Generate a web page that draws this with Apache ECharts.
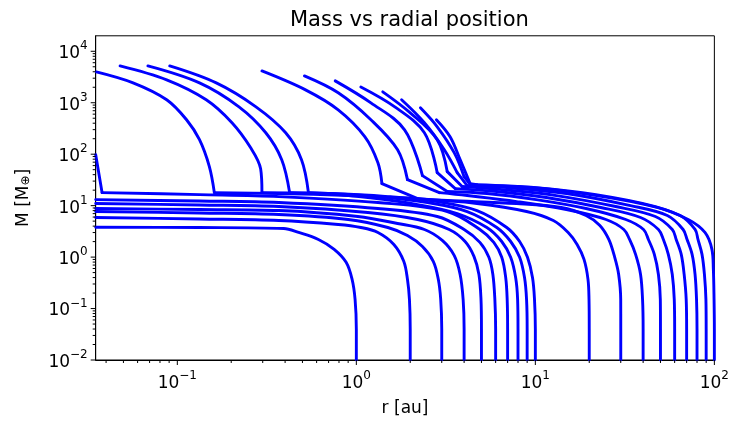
<!DOCTYPE html>
<html><head><meta charset="utf-8">
<script src="https://cdn.jsdelivr.net/npm/echarts@6/dist/echarts.min.js"></script>
<style>html,body{margin:0;padding:0;background:#fff}#c{width:732px;height:422px}</style>
</head><body><div id="c"></div>
<script>
const chartTitle = 'Mass vs radial position';
const xLabel = 'r [au]';
const xMin = 0.035, xMax = 100, yMin = 0.01, yMax = 20000;

// tick values (log axes, matplotlib style)
const xMajorTicks = [0.1, 1, 10, 100];
const yMajorTicks = [0.01, 0.1, 1, 10, 100, 1000, 10000];
const xMinorTicks = [0.04,0.05,0.06,0.07,0.08,0.09, 0.2,0.3,0.4,0.5,0.6,0.7,0.8,0.9, 2,3,4,5,6,7,8,9, 20,30,40,50,60,70,80,90];
const yMinorTicks = [0.02,0.03,0.04,0.05,0.06,0.07,0.08,0.09, 0.2,0.3,0.4,0.5,0.6,0.7,0.8,0.9, 2,3,4,5,6,7,8,9,
  20,30,40,50,60,70,80,90, 200,300,400,500,600,700,800,900, 2000,3000,4000,5000,6000,7000,8000,9000];

// planet tracks: radial position r [au] and mass M [M_earth]
const r01 = [0.035, 0.133, 0.393, 0.476, 0.614, 0.752, 0.877, 0.947, 0.984, 1, 1];
const m01 = [3.8, 3.76, 3.6, 3.01, 2.2, 1.41, 0.79, 0.37, 0.151, 0.04, 0.01];
const r02 = [0.035, 0.133, 0.369, 0.792, 1.06, 1.32, 1.62, 1.84, 1.93, 1.98, 2, 2];
const m02 = [5.88, 5.5, 5.14, 4.3, 3.76, 3.01, 1.76, 0.83, 0.37, 0.151, 0.04, 0.01];
const r03 = [0.035, 0.133, 0.369, 0.90, 1.5, 1.93, 2.34, 2.69, 2.87, 2.96, 3, 3];
const m03 = [7.69, 7.19, 6.72, 5.38, 3.76, 2.63, 1.61, 0.83, 0.37, 0.151, 0.04, 0.01];
const r04 = [0.035, 0.133, 0.369, 1.02, 1.7, 2.4, 3.02, 3.52, 3.8, 3.95, 4, 4];
const m04 = [8.79, 8.4, 8.03, 6.15, 4.5, 3.44, 2.11, 1.08, 0.46, 0.151, 0.04, 0.01];
const r05 = [0.035, 0.133, 0.369, 1.16, 2.2, 3.3, 4.05, 4.54, 4.84, 4.97, 5, 5];
const m05 = [11.0, 10.3, 9.6, 7.35, 5.38, 3.44, 2.01, 1.03, 0.46, 0.151, 0.04, 0.01];
const r06 = [0.035, 0.133, 0.369, 1.32, 2.83, 4.0, 4.9, 5.5, 5.79, 5.94, 6, 6];
const m06 = [13.1, 12.3, 11.5, 8.79, 6.15, 3.44, 1.93, 0.99, 0.46, 0.151, 0.04, 0.01];
const r07 = [0.035, 0.038, 0.133, 0.369, 1.32, 3.22, 4.9, 5.86, 6.49, 6.83, 6.96, 7, 7];
const m07 = [98, 17.9, 16.4, 15.0, 11.5, 7.69, 3.44, 1.93, 0.99, 0.40, 0.151, 0.04, 0.01];
const r08 = [0.0907, 0.165, 0.275, 0.403, 0.494, 0.54, 0.697, 1.16, 2.2, 3.66, 5.36, 6.49, 7.28, 7.76, 7.96, 8, 8];
const m08 = [5190, 2430, 833, 261, 78.2, 17.9, 17.2, 14.4, 10.5, 7.03, 3.76, 2.01, 0.99, 0.40, 0.151, 0.04, 0.01];
const r09 = [0.0685, 0.133, 0.221, 0.312, 0.383, 0.424, 0.697, 1.32, 2.5, 4.16, 6.09, 7.28, 8.17, 8.7, 8.93, 9, 9];
const m09 = [5190, 2430, 833, 261, 78.2, 17.9, 17.2, 15.0, 11.5, 7.69, 3.76, 2.01, 0.99, 0.40, 0.151, 0.04, 0.01];
const r10 = [0.0479, 0.0872, 0.145, 0.202, 0.258, 0.292, 0.297, 0.697, 1.5, 2.83, 4.72, 6.92, 8.17, 9.04, 9.64, 9.89, 10, 10];
const m10 = [5190, 2780, 1140, 408, 130, 52, 17.9, 17.2, 15.0, 12.0, 8.03, 3.76, 2.01, 0.99, 0.40, 0.151, 0.04, 0.01];
const r20 = [0.0353, 0.0566, 0.0872, 0.1126, 0.133, 0.151, 0.161, 0.369, 0.9, 2.2, 4.72, 8.93, 12.6, 15.25, 17.11, 18.7, 19.68, 19.94, 20, 20];
const m20 = [3970, 2430, 1140, 467, 191, 57.3, 17.9, 17.2, 15.7, 13.7, 11.0, 7.69, 5.14, 3.01, 1.76, 0.902, 0.37, 0.151, 0.04, 0.01];
const r30 = [0.297, 0.52, 0.792, 1.117, 1.32, 1.39, 2.2, 3.22, 7.86, 13.95, 19.19, 22.93, 25.72, 27.76, 29.2, 29.98, 30, 30];
const m30 = [4150, 1780, 728, 218, 68.4, 26.8, 13.7, 12.6, 11.0, 9.19, 6.43, 4.11, 2.2, 0.987, 0.46, 0.151, 0.04, 0.01];
const r40 = [0.513, 0.792, 1.206, 1.7, 1.93, 2.91, 4.16, 7.86, 14.9, 24.8, 31.2, 33.6, 36.3, 38.7, 39.7, 40, 40];
const m40 = [3320, 1560, 467, 122, 32.0, 17.9, 15.7, 12.0, 8.4, 5.38, 3.44, 2.2, 1.13, 0.46, 0.151, 0.04, 0.01];
const r50 = [0.762, 1.206, 1.86, 2.34, 3.22, 5.36, 10.1, 19.2, 32, 40.2, 42.8, 46.2, 48.7, 49.9, 50, 50];
const m50 = [2660, 995, 298, 38.3, 18.8, 17.2, 13.1, 8.79, 5.38, 3.44, 2.2, 1.13, 0.46, 0.151, 0.04, 0.01];
const r60 = [1.06, 1.64, 2.4, 2.83, 3.57, 6.09, 11.5, 23.2, 38.7, 48.7, 51.9, 55.3, 58.2, 59.7, 60, 60];
const m60 = [2030, 833, 261, 43.8, 21.4, 18.8, 14.4, 9.19, 5.88, 3.44, 2.2, 1.13, 0.46, 0.151, 0.04, 0.01];
const r70 = [1.405, 2.0, 2.83, 3.22, 3.9, 6.49, 13.1, 28.1, 46.8, 58.2, 61.2, 65.3, 67.8, 69.6, 70, 70];
const m70 = [1630, 637, 191, 45.8, 23.5, 20.5, 15.7, 9.61, 6.15, 3.44, 2.2, 1.13, 0.46, 0.151, 0.04, 0.01];
const r80 = [1.79, 2.4, 3.1, 3.66, 4.16, 6.92, 14.9, 34.0, 54.6, 66.9, 70.4, 75.1, 78.0, 79.5, 80, 80];
const m80 = [1140, 408, 122, 43.8, 24.5, 22.4, 17.2, 10.0, 6.43, 3.44, 2.2, 1.13, 0.46, 0.151, 0.04, 0.01];
const r90 = [2.28, 2.83, 3.52, 4.0, 4.37, 7.86, 16.9, 41.2, 64.4, 78.0, 81.0, 85.3, 88.0, 89.7, 90, 90];
const m90 = [797, 341, 107, 36.6, 24.5, 23.5, 17.9, 10.5, 6.43, 3.44, 2.2, 1.13, 0.46, 0.151, 0.04, 0.01];
const r100 = [2.8, 3.34, 3.8, 4.32, 4.72, 10.1, 21.8, 46.8, 71.4, 88.6, 96.9, 98.7, 99.6, 100, 100];
const m100 = [467, 218, 78.2, 26.8, 25.6, 22.4, 16.4, 9.61, 5.38, 3.01, 1.41, 0.58, 0.151, 0.04, 0.01];

const tracks = [[r01,m01],[r02,m02],[r03,m03],[r04,m04],[r05,m05],[r06,m06],[r07,m07],[r08,m08],[r09,m09],[r10,m10],
  [r20,m20],[r30,m30],[r40,m40],[r50,m50],[r60,m60],[r70,m70],[r80,m80],[r90,m90],[r100,m100]];
// indices of sharp corners (output-sampling kinks) in each track
const trackCorners = [[],[],[],[],[],[],[1],[5],[5],[6],[6],[5,6],[4,5],[3,4],[3,4],[3,4],[3,4],[3,4],[3,4]];

const FONT = 'DejaVu Sans';
const BLUE = '#0000ff';

function powLabel(v) {
  const l = Math.log10(v);
  const e = Math.round(l);
  if (Math.abs(l - e) > 1e-6) return '';
  const es = e < 0 ? '\u2212' + (-e) : String(e);
  return '{b|10}{e|' + es + '}';
}
const labelRich = {
  b: {fontSize: 17, fontFamily: FONT, color: '#000', lineHeight: 22, verticalAlign: 'bottom'},
  e: {fontSize: 12, fontFamily: FONT, color: '#000', lineHeight: 12, verticalAlign: 'top'}
};

const series = [];
tracks.forEach((t, ti) => {
  const pts = t[0].map((v, i) => [v, t[1][i]]);
  const cuts = [0].concat(trackCorners[ti]).concat([pts.length - 1]);
  for (let s = 0; s < cuts.length - 1; s++) {
    series.push({
      type: 'line',
      data: pts.slice(cuts[s], cuts[s + 1] + 1),
      showSymbol: false,
      symbol: 'none',
      smooth: 0.35,
      lineStyle: {color: BLUE, width: 2.9, join: 'round', cap: 'round'},
      silent: true,
      animation: false,
      z: 2
    });
  }
});

// tick marks drawn through the axis scales
const tickData = [];
xMajorTicks.forEach(v => tickData.push([v, yMin, 5, 0]));
xMinorTicks.forEach(v => tickData.push([v, yMin, 3, 0]));
yMajorTicks.forEach(v => tickData.push([xMin, v, 5, 1]));
yMinorTicks.forEach(v => tickData.push([xMin, v, 3, 1]));
series.push({
  type: 'custom',
  data: tickData,
  clip: false,
  silent: true,
  animation: false,
  z: 10,
  encode: {x: 0, y: 1},
  renderItem: function (params, api) {
    const p = api.coord([api.value(0), api.value(1)]);
    const len = api.value(2);
    const dir = api.value(3);
    const shape = dir === 0
      ? {x1: p[0], y1: p[1], x2: p[0], y2: p[1] + len}
      : {x1: p[0], y1: p[1], x2: p[0] - len, y2: p[1]};
    return {type: 'line', shape: shape, style: {stroke: '#000', lineWidth: 1}};
  }
});

const chart = echarts.init(document.getElementById('c'), null, {renderer: 'canvas'});
chart.setOption({
  animation: false,
  backgroundColor: '#fff',
  textStyle: {fontFamily: FONT},
  title: {
    text: chartTitle, left: 285, top: 5,
    textStyle: {fontSize: 21, fontWeight: 'normal', color: '#000', fontFamily: FONT}
  },
  grid: {left: 95.7, right: 12, top: 35.8, bottom: 61, show: true, borderColor: '#000', borderWidth: 1, backgroundColor: 'transparent'},
  xAxis: {
    type: 'log', logBase: 10, min: xMin, max: xMax,
    axisLine: {show: true, lineStyle: {color: '#000', width: 1}},
    axisTick: {show: false},
    splitLine: {show: false},
    minorTick: {show: false},
    axisLabel: {formatter: powLabel, rich: labelRich, margin: 10, showMinLabel: true, showMaxLabel: true, hideOverlap: false},
    name: xLabel, nameLocation: 'middle', nameGap: 40,
    nameTextStyle: {fontSize: 17, color: '#000', fontFamily: FONT}
  },
  yAxis: {
    type: 'log', logBase: 10, min: yMin, max: yMax,
    axisLine: {show: true, lineStyle: {color: '#000', width: 1}},
    axisTick: {show: false},
    splitLine: {show: false},
    minorTick: {show: false},
    axisLabel: {formatter: powLabel, rich: labelRich, margin: 8, showMinLabel: true, showMaxLabel: true, hideOverlap: false},
    name: 'M [M{s|\u2295}]', nameLocation: 'middle', nameGap: 64, nameRotate: 90,
    nameTextStyle: {fontSize: 17, color: '#000', fontFamily: FONT,
      rich: {s: {fontSize: 12, fontFamily: FONT, color: '#000', verticalAlign: 'bottom'}}}
  },
  series: series
});
</script></body></html>
